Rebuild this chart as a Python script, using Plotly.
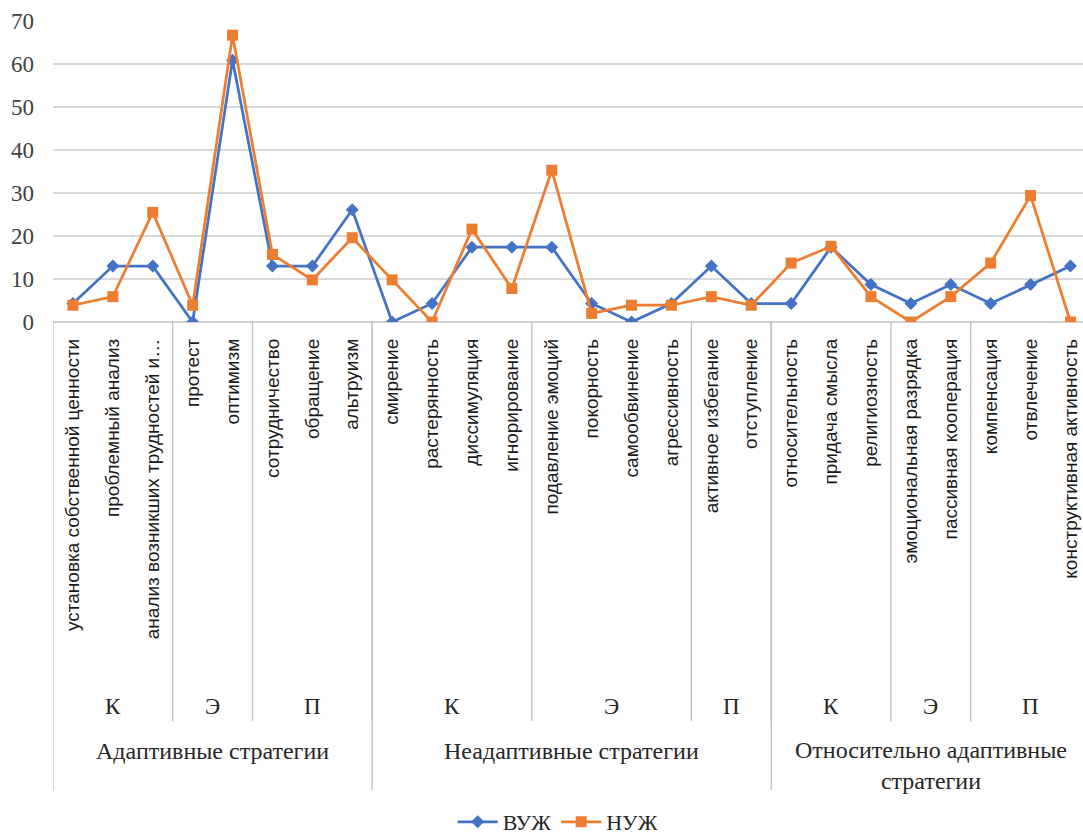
import plotly.graph_objects as go

# Coping strategies (level 1), their sub-type (level 2) and strategy class (level 3)
strategies = [
    "установка собственной ценности", "проблемный анализ", "анализ возникших трудностей и…",
    "протест", "оптимизм",
    "сотрудничество", "обращение", "альтруизм",
    "смирение", "растерянность", "диссимуляция", "игнорирование",
    "подавление эмоций", "покорность", "самообвинение", "агрессивность",
    "активное избегание", "отступление",
    "относительность", "придача смысла", "религиозность",
    "эмоциональная разрядка", "пассивная кооперация",
    "компенсация", "отвлечение", "конструктивная активность",
]
subgroups = ["К", "Э", "П", "К", "Э", "П", "К", "Э", "П"]
subgroup_sizes = [3, 2, 3, 4, 4, 2, 3, 2, 3]
classes = ["Адаптивные стратегии", "Неадаптивные стратегии", "Относительно адаптивные<br>стратегии"]
class_sizes = [8, 10, 8]

vuzh = [4.3, 13.0, 13.0, 0.0, 60.9, 13.0, 13.0, 26.1, 0.0, 4.3, 17.4, 17.4, 17.4,
        4.3, 0.0, 4.3, 13.0, 4.3, 4.3, 17.4, 8.7, 4.3, 8.7, 4.3, 8.7, 13.0]
nuzh = [3.9, 5.9, 25.5, 3.9, 66.7, 15.7, 9.8, 19.6, 9.8, 0.0, 21.6, 7.8, 35.3,
        2.0, 3.9, 3.9, 5.9, 3.9, 13.7, 17.6, 5.9, 0.0, 5.9, 13.7, 29.4, 0.0]

y_ticks = [0, 10, 20, 30, 40, 50, 60, 70]

W, H = 1083, 834
M_L, M_R, M_T, M_B = 53, 0, 21, 512
plot_h = H - M_T - M_B
plot_w = W - M_L - M_R
step_px = 39.9
x_lo = -0.5
x_hi = x_lo + plot_w / step_px

BLUE = "#4472C4"
ORANGE = "#ED7D31"
SERIF = "Times New Roman, Liberation Serif, DejaVu Serif, serif"
SANS = "Liberation Sans, Arial, sans-serif"


def py(pixel_y):
    """Convert a pixel row of the page to paper y coordinate."""
    return (H - M_B - pixel_y) / plot_h


xs = list(range(len(strategies)))

fig = go.Figure()
fig.add_trace(go.Scatter(
    x=xs, y=vuzh, name="ВУЖ", mode="lines+markers",
    line=dict(color=BLUE, width=2.75),
    marker=dict(symbol="diamond", size=10, color=BLUE),
))
fig.add_trace(go.Scatter(
    x=xs, y=nuzh, name="НУЖ", mode="lines+markers",
    line=dict(color=ORANGE, width=2.75),
    marker=dict(symbol="square", size=11, color=ORANGE),
))

shapes = []
annotations = []

# separators and labels for the sub-type level
pos = 0
for name, n in zip(subgroups, subgroup_sizes):
    center = pos + (n - 1) / 2
    annotations.append(dict(
        x=center, y=py(706), xref="x", yref="paper", text=name, showarrow=False,
        font=dict(family=SERIF, size=23, color="#262626"), xanchor="center", yanchor="middle",
    ))
    pos += n
    shapes.append(dict(
        type="line", xref="x", yref="paper", x0=pos - 0.5, x1=pos - 0.5,
        y0=0, y1=py(721), line=dict(color="#BFBFBF", width=1.3),
    ))

# separators and labels for the class level
shapes.append(dict(
    type="line", xref="x", yref="paper", x0=-0.5, x1=-0.5,
    y0=0, y1=py(790), line=dict(color="#BFBFBF", width=1.3),
))
pos = 0
for name, n in zip(classes, class_sizes):
    center = pos + (n - 1) / 2
    ycen = 765 if "<br>" in name else 751
    annotations.append(dict(
        x=center, y=py(ycen), xref="x", yref="paper", text=name, showarrow=False,
        font=dict(family=SERIF, size=24, color="#262626"), xanchor="center", yanchor="middle",
    ))
    pos += n
    shapes.append(dict(
        type="line", xref="x", yref="paper", x0=pos - 0.5, x1=pos - 0.5,
        y0=0, y1=py(790), line=dict(color="#BFBFBF", width=1.3),
    ))

fig.update_layout(
    width=W, height=H,
    margin=dict(l=M_L, r=M_R, t=M_T, b=M_B, autoexpand=False),
    paper_bgcolor="white", plot_bgcolor="white",
    showlegend=True,
    legend=dict(
        orientation="h", x=0.49, y=py(822), xanchor="center", yanchor="middle",
        font=dict(family=SERIF, size=22, color="#262626"),
        itemwidth=40, tracegroupgap=0,
    ),
    shapes=shapes,
    annotations=annotations,
    xaxis=dict(
        range=[x_lo, x_hi], tickmode="array", tickvals=xs, ticktext=strategies,
        tickangle=-90, tickfont=dict(family=SANS, size=19, color="#1a1a1a"),
        showgrid=False, zeroline=False, showline=False, ticks="",
        ticklabelstandoff=12, fixedrange=True,
    ),
    yaxis=dict(
        range=[0, 70], tickmode="array", tickvals=y_ticks,
        tickfont=dict(family=SERIF, size=23, color="#404040"),
        showgrid=True, gridcolor="#D9D9D9", gridwidth=1.5,
        zeroline=True, zerolinecolor="#D0D0D0", zerolinewidth=1.5,
        showline=False, ticks="", ticklabelstandoff=18,
    ),
)

fig.write_html("out.html")
